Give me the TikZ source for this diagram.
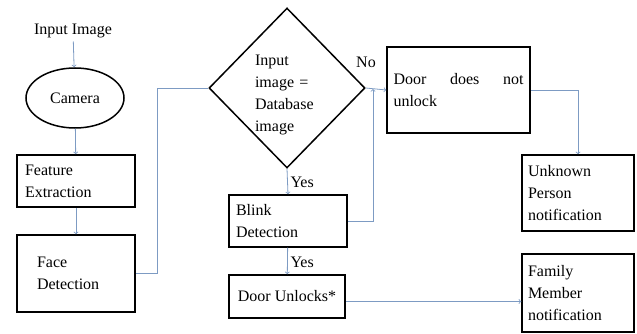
\documentclass[tikz,border=0pt]{standalone}
\usepackage{fontspec}
\setmainfont{Liberation Serif}
\usetikzlibrary{shapes.geometric}
\definecolor{linkblue}{RGB}{125,155,195}
\tikzset{
  box/.style={draw, rectangle, line width=1.5pt, align=left, inner ysep=2pt},
  link/.style={draw=linkblue, line width=0.8pt},
}

\begin{document}
\begin{tikzpicture}[x=1pt, y=-1pt, font=\fontsize{16}{22}\selectfont]
\useasboundingbox (0,0) rectangle (637,334);
% left column
\node (input) at (73,31) {Input Image};
\node [draw, ellipse, line width=1.5pt, minimum width=98pt, minimum height=60pt] (camera) at (75,98) {Camera};
\node [box, inner xsep=8pt, text width=102pt, minimum height=52pt] (feature) at (76,181) {Feature\\Extraction};
\node [box, inner xsep=20pt, text width=78pt, minimum height=77pt] (face) at (76,273.5) {Face\\Detection};
% middle column
\node [draw, diamond, line width=1.5pt, inner sep=0pt, minimum width=156pt, minimum height=160pt] (match) at (287,88) {};
\node [text width=64pt, align=left] (matchtext) at (287,95) {Input\\image =\\Database\\image};
\node [box, inner xsep=7pt, text width=104pt, minimum height=52pt] (blink) at (288,221) {Blink\\Detection};
\node [box, align=center, minimum width=116pt, minimum height=43pt] (unlock) at (287,296.5) {Door Unlocks*};
% right column
\node [box, inner xsep=6.5pt, text width=130pt, minimum height=86pt] (nounlock) at (458.5,90) {Door\hfill does\hfill not\\unlock};
\node [box, inner xsep=6pt, text width=100pt, minimum height=76pt] (unknown) at (578,193) {Unknown\\Person\\notification};
\node [box, inner xsep=6pt, text width=100pt, minimum height=78pt] (family) at (578,293) {Family\\Member\\notification};
% arrows
\draw [link, ->] (input) -- (camera);
\draw [link, ->] (camera) -- (feature);
\draw [link, ->] (feature) -- (face);
\draw [link] (face.east) -- ++(22,0) |- (match.west);
\draw [link, ->] (match.east) -- (nounlock.west);
\node (no) at (366,62) {No};
\coordinate (join) at (373,89);
\draw [link, ->] (blink.east) -| (join);
\draw [link, ->] (match.south) -- (blink.north);
\node [right] (yes1) at (287,182) {Yes};
\draw [link, ->] (blink) -- (unlock);
\node [right] (yes2) at (287,262) {Yes};
\draw [link, ->] (nounlock.east) -| (unknown.north);
\draw [link, ->] ([yshift=-5pt]unlock.east) -- ([yshift=-5pt]unlock.east -| family.west);
\end{tikzpicture}
\end{document}
